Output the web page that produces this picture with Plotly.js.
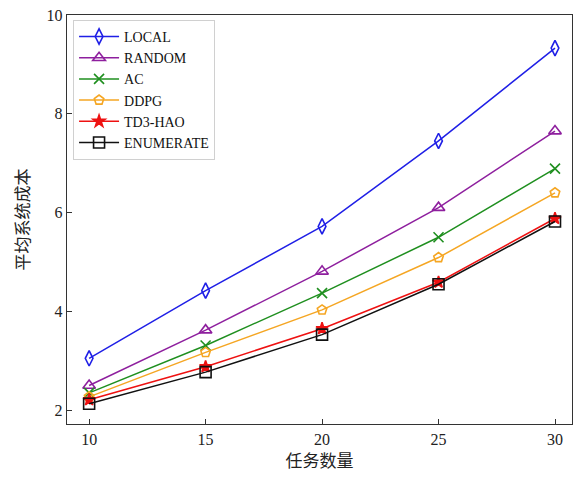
<!DOCTYPE html>
<html><head><meta charset="utf-8">
<script src="https://cdn.plot.ly/plotly-3.0.1.min.js"></script>
<style>body{margin:0;background:#fff}#c{width:578px;height:481px}</style>
</head><body><div id="c"></div>
<script>
const tasks = [10, 15, 20, 25, 30];
const seriesNames = ["LOCAL", "RANDOM", "AC", "DDPG", "TD3-HAO", "ENUMERATE"];
const local = [3.05, 4.42, 5.72, 7.45, 9.33];
const random = [2.50, 3.62, 4.81, 6.10, 7.65];
const ac = [2.35, 3.31, 4.37, 5.50, 6.89];
const ddpg = [2.27, 3.17, 4.03, 5.09, 6.40];
const td3hao = [2.21, 2.88, 3.65, 4.59, 5.88];
const enumerate_ = [2.13, 2.77, 3.53, 4.55, 5.82];
const yTicks = [2, 4, 6, 8, 10];
const xTicks = [10, 15, 20, 25, 30];

const values = [local, random, ac, ddpg, td3hao, enumerate_];
const colors = ["#1f1fe6", "#8e1f9e", "#1f8f1f", "#f5a623", "#ee1111", "#111111"];
const symbols = ["diamond-tall-open", "triangle-up-open", "x-thin-open", "pentagon-open", "star", "square-open"];
const sizes = [11, 11, 10, 10, 9, 11];

const traces = values.map((v, i) => ({
  x: tasks, y: v, name: seriesNames[i], type: "scatter", mode: "lines+markers",
  line: {color: colors[i], width: 1.5},
  marker: {symbol: symbols[i], size: sizes[i], color: colors[i], line: {color: colors[i], width: 1.6}}
}));

const font = "'Liberation Serif', 'Times New Roman', 'Noto Sans CJK SC', serif";
const layout = {
  width: 578, height: 481,
  margin: {l: 67, r: 6, t: 15, b: 57},
  paper_bgcolor: "#fff", plot_bgcolor: "#fff",
  font: {family: font, color: "#222", size: 16},
  showlegend: true,
  legend: {x: 0.012, y: 0.988, xanchor: "left", yanchor: "top", bgcolor: "rgba(255,255,255,0.9)",
           bordercolor: "#d0d0d0", borderwidth: 1, font: {size: 14, family: font, color: "#111"},
           tracegroupgap: 0, itemwidth: 40},
  xaxis: {range: [9.05, 30.73], tickvals: xTicks, ticks: "inside", ticklen: 5, tickcolor: "#333",
          showline: true, linecolor: "#333", linewidth: 1.3, mirror: true, showgrid: false, zeroline: false,
          title: {text: "任务数量", font: {size: 17, family: font}, standoff: 8}},
  yaxis: {range: [1.72, 10], tickvals: yTicks, ticks: "inside", ticklen: 5, tickcolor: "#333",
          showline: true, linecolor: "#333", linewidth: 1.3, mirror: true, showgrid: false, zeroline: false,
          title: {text: "平均系统成本", font: {size: 17, family: font}, standoff: 12}}
};
Plotly.newPlot("c", traces, layout, {displayModeBar: false, staticPlot: true});
</script></body></html>
